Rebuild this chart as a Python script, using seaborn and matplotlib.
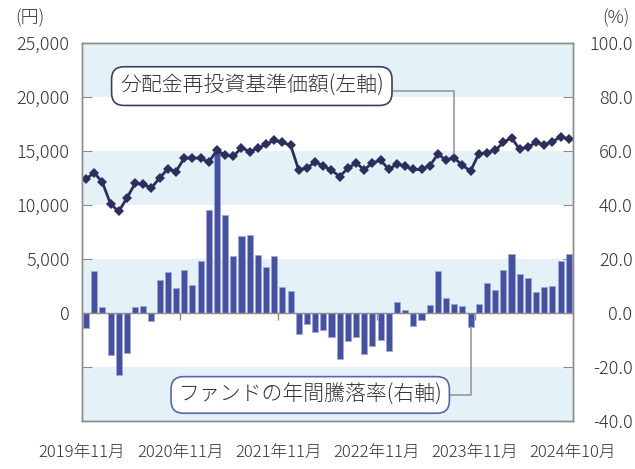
import numpy as np
import pandas as pd
import matplotlib
matplotlib.use("Agg")
import matplotlib.pyplot as plt
import seaborn as sns

# monthly data 2019-11 .. 2024-10
nav = [12400, 13000, 12100, 10100, 9400, 10650, 12000, 11900, 11600, 12500,
       13350, 13100, 14350, 14350, 14350, 13950, 15080, 14600, 14500, 15300,
       14950, 15250, 15620, 15980, 15800, 15550, 13220, 13450, 13960, 13630,
       13220, 12640, 13400, 13900, 13260, 13900, 14150, 13290, 13800, 13590,
       13290, 13290, 13630, 14700, 14180, 14370, 13660, 13160, 14740, 14860,
       15050, 15790, 16230, 15140, 15390, 15790, 15580, 15860, 16320, 16100]
ret = [-5.4, 15.7, 2.4, -15.4, -23.0, -14.9, 2.2, 2.7, -3.0, 12.2,
       15.2, 9.2, 15.9, 10.3, 19.3, 38.2, 60.8, 36.2, 21.2, 28.7,
       28.9, 21.6, 17.1, 21.1, 9.5, 8.1, -7.9, -4.2, -7.2, -6.3,
       -8.9, -17.2, -10.2, -8.7, -15.2, -12.4, -10.0, -14.2, 4.0, 1.1,
       -4.8, -2.5, 2.8, 15.5, 5.5, 3.2, 2.6, -5.3, 3.3, 11.2,
       8.6, 16.1, 21.7, 14.3, 12.9, 7.7, 9.5, 10.0, 19.1, 21.9]
xlabels = ["2019年11月", "2020年11月", "2021年11月", "2022年11月", "2023年11月", "2024年10月"]
yen_ticks = [-5000, 0, 5000, 10000, 15000, 20000, 25000]
pct_ticks = [-40, -20, 0, 20, 40, 60, 80, 100]

band = "#e4f2f8"
bar_c = "#4451a2"
line_c = "#2c2f5e"
grey = "#8c8c8c"
txt = "#333333"

sns.set_style("white")
plt.rcParams["font.family"] = ["Noto Sans CJK JP", "DejaVu Sans"]
plt.rcParams["font.weight"] = "light"

df = pd.DataFrame({"idx": np.arange(len(nav)), "nav": nav, "ret": ret})

fig = plt.figure(figsize=(6.35, 4.69), dpi=100)
ax = fig.add_axes([0.129, 0.1023, 0.7732, 0.806])
ax2 = ax.twinx()

# background bands
for lo in (-40, 0, 40, 80):
    ax.axhspan(lo, lo + 20, color=band, lw=0, zorder=0)

sns.barplot(data=df, x="idx", y="ret", color=bar_c, saturation=1, width=0.74,
            edgecolor="#a3a8d6", linewidth=0.6, ax=ax, zorder=2)
ax.axhline(0, color=grey, lw=1, zorder=3)
ax.vlines([11.5, 23.5, 35.5, 47.5], -2.7, 0, color=grey, lw=1, zorder=3)

sns.lineplot(data=df, x="idx", y="nav", ax=ax2, color=line_c, lw=2,
             marker="D", markersize=5.5, markeredgewidth=0)

# right axis (%) for bars
ax.set_ylim(-40, 100)
ax.set_yticks(pct_ticks)
ax.set_yticklabels([f"{v:.1f}" for v in pct_ticks])
ax.yaxis.tick_right()
ax.tick_params(axis="y", direction="in", length=7, color=grey, labelsize=13,
               labelcolor=txt, pad=43)
for t in ax.get_yticklabels():
    t.set_horizontalalignment("right")

# left axis (yen) for line
ax2.set_ylim(-10000, 25000)
ax2.set_yticks(yen_ticks)
ax2.set_yticklabels(["" if v < 0 else f"{v:,}" for v in yen_ticks])
ax2.yaxis.tick_left()
ax2.tick_params(axis="y", direction="in", length=7, color=grey, labelsize=13,
                labelcolor=txt, pad=9)

ax.set_xlim(-0.5, 59.5)
ax.set_xticks([-0.5, 11.5, 23.5, 35.5, 47.5, 59.5])
ax.set_xticklabels(xlabels)
ax.tick_params(axis="x", length=0, pad=17, labelsize=12, labelcolor=txt)

for a in (ax, ax2):
    a.set_xlabel("")
    a.set_ylabel("")
    for s in a.spines.values():
        s.set_visible(True)
        s.set_color(grey)
        s.set_linewidth(1)

fig.text(15 / 635, 1 - 18 / 469, "(円)", fontsize=13, color=txt, va="center", ha="left")
fig.text(630 / 635, 1 - 18 / 469, "(%)", fontsize=13, color=txt, va="center", ha="right")

ax2.annotate("分配金再投資基準価額(左軸)", xy=(45, nav[45]), xycoords="data",
             xytext=(0.346, 0.886), textcoords="axes fraction", ha="center", va="center",
             fontsize=15, color=txt,
             bbox=dict(boxstyle="round,pad=0.4,rounding_size=0.6", fc="white", ec="#3b3f6b", lw=1.2),
             arrowprops=dict(arrowstyle="-", color="#999999", lw=1.2, relpos=(1, 0.3),
                             connectionstyle="angle,angleA=0,angleB=90,rad=0",
                             shrinkA=0, shrinkB=3))
ax.annotate("ファンドの年間騰落率(右軸)", xy=(47, ret[47]), xycoords="data",
            xytext=(0.465, 0.069), textcoords="axes fraction", ha="center", va="center",
            fontsize=15, color=txt,
            bbox=dict(boxstyle="round,pad=0.35,rounding_size=0.6", fc="white", ec="#5a64b0", lw=1.2),
            arrowprops=dict(arrowstyle="-", color="#999999", lw=1.2, relpos=(1, 0.5),
                            connectionstyle="angle,angleA=0,angleB=90,rad=0",
                            shrinkA=0, shrinkB=0))

fig.savefig("out.png", dpi=100)
